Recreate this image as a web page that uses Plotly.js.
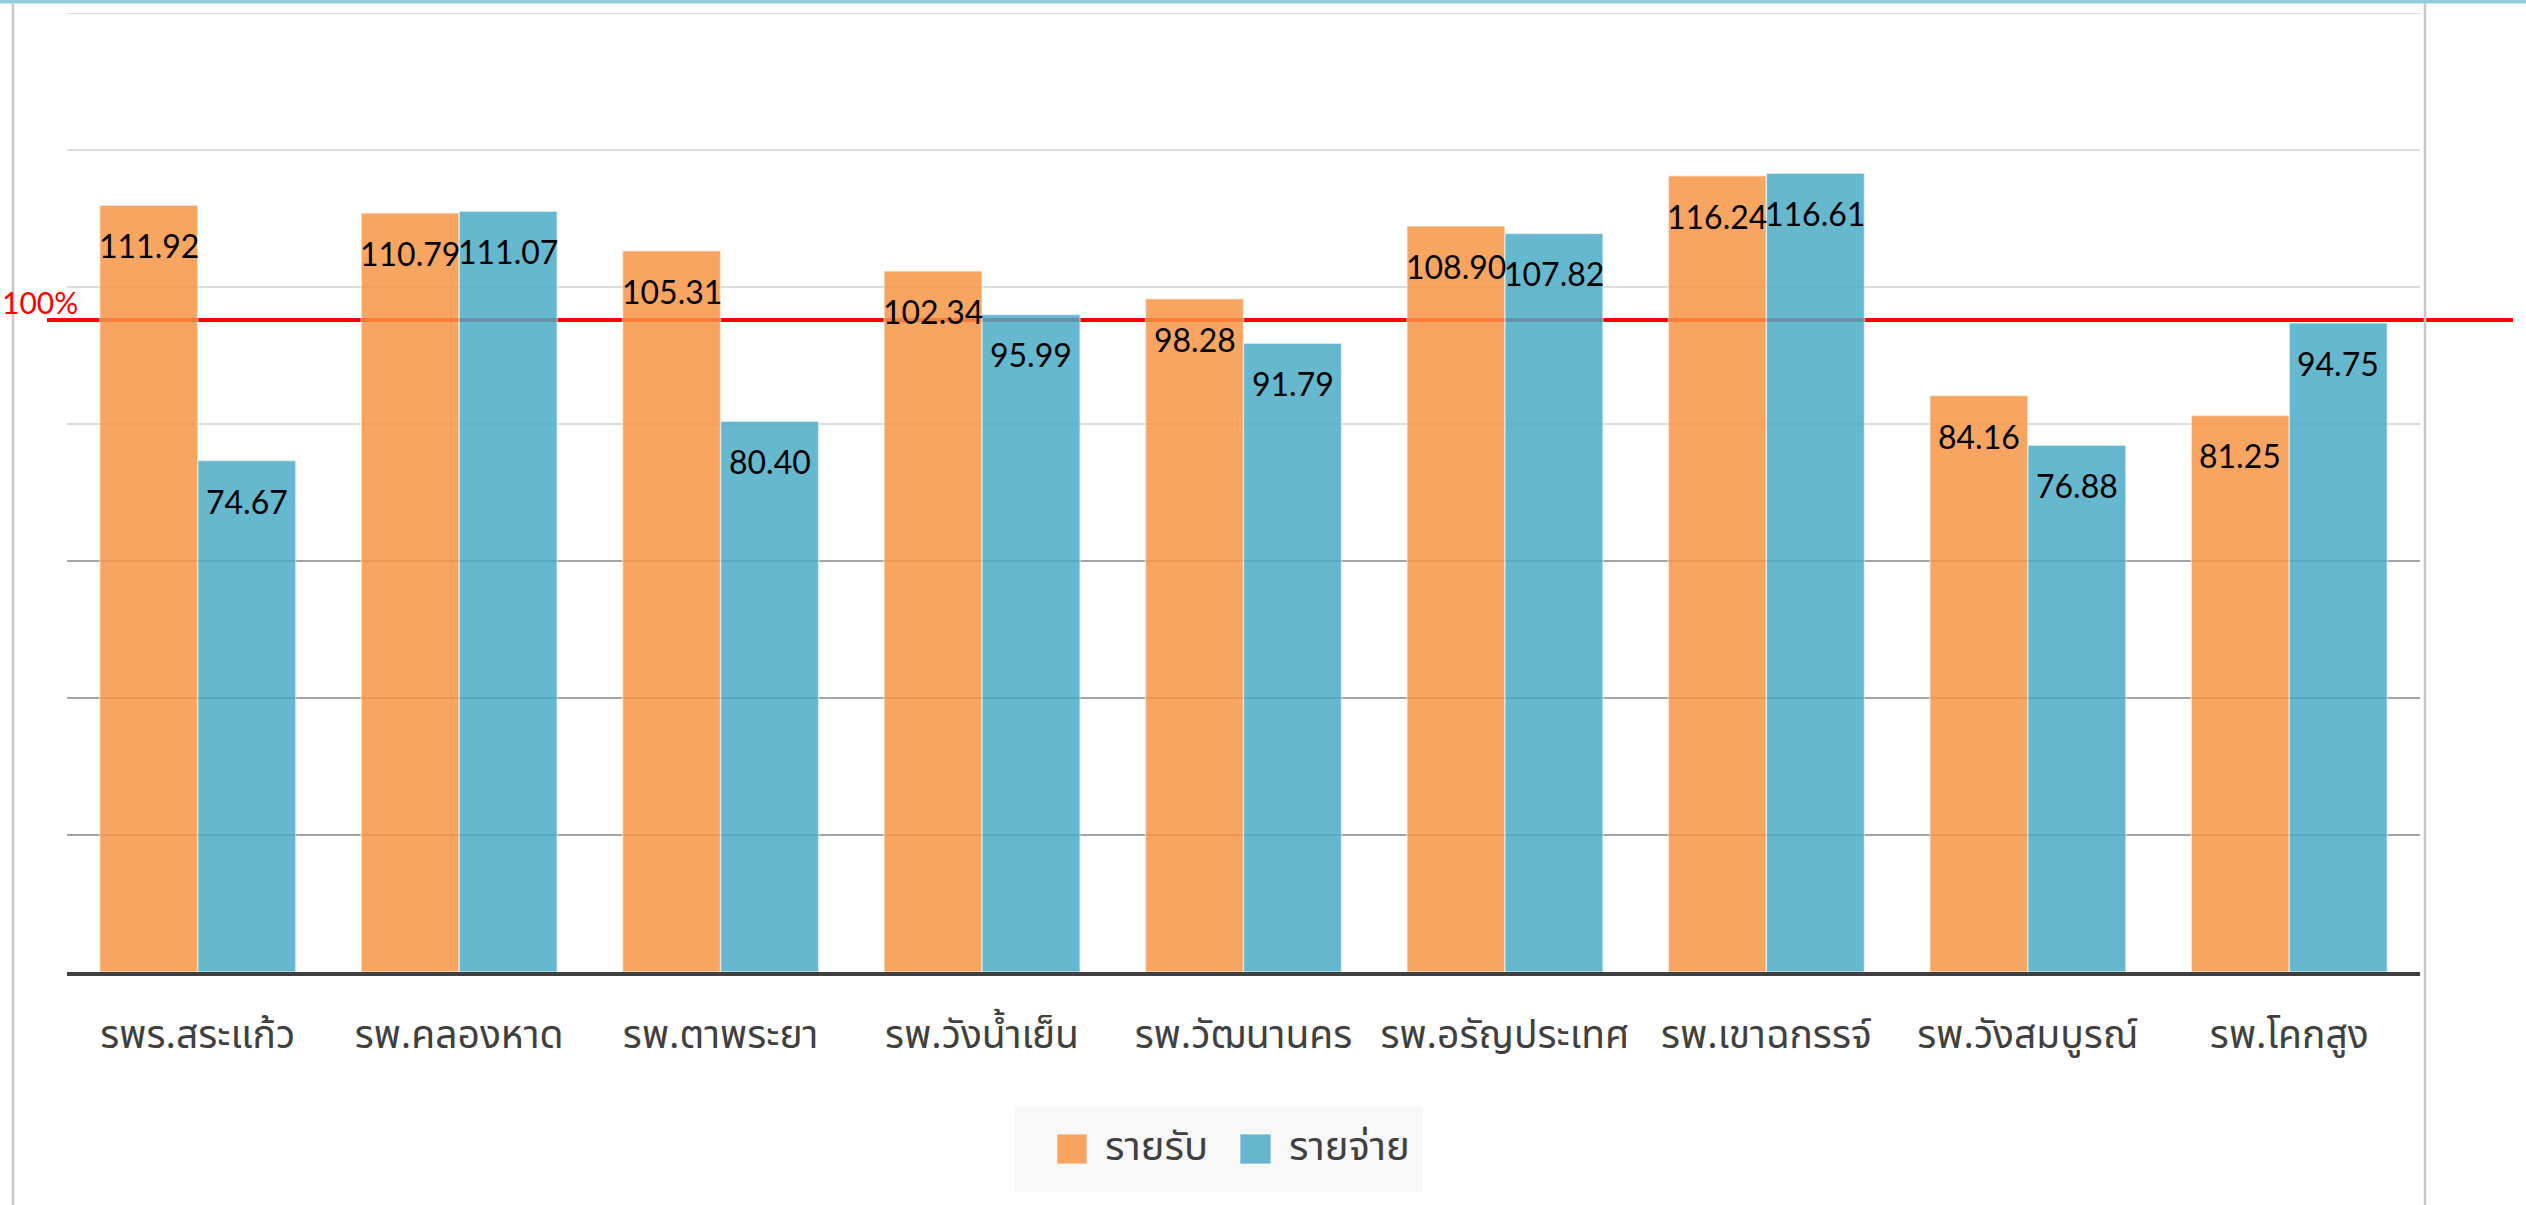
<!DOCTYPE html>
<html>
<head>
<meta charset="utf-8">
<script src="https://cdn.plot.ly/plotly-3.0.1.min.js"></script>
<style>
html,body{margin:0;padding:0;background:#fff;}
#chart{width:2526px;height:1205px;}
</style>
</head>
<body>
<div id="chart"></div>
<script>
// ---- data ----
const hospitals = ["รพร.สระแก้ว","รพ.คลองหาด","รพ.ตาพระยา","รพ.วังน้ำเย็น","รพ.วัฒนานคร","รพ.อรัญประเทศ","รพ.เขาฉกรรจ์","รพ.วังสมบูรณ์","รพ.โคกสูง"];
const income  = [111.92,110.79,105.31,102.34,98.28,108.90,116.24,84.16,81.25];
const expense = [74.67,111.07,80.40,95.99,91.79,107.82,116.61,76.88,94.75];
const seriesNames = ["รายรับ","รายจ่าย"];
const targetLabel = "100%";
const targetLineValue = 95.2;   // where the red "100%" line is drawn in the reference
const yMax = 140;
const yStep = 20;
const darkGridBelow = 60;       // gridlines at or below this value are drawn darker

const orange = "#F79646";
const teal = "#4BACC6";
const thaiFont = "'Noto Sans Thai', 'Noto Sans Thai UI', Lato, 'Noto Sans', sans-serif";

const barCommon = {
  type: "bar",
  x: hospitals,
  opacity: 0.85,
  hoverinfo: "x+y",
  showlegend: false
};
const traces = [
  Object.assign({}, barCommon, {name: seriesNames[0], y: income,
    marker: {color: orange, line: {color: "rgba(255,255,255,0.55)", width: 1.5}}}),
  Object.assign({}, barCommon, {name: seriesNames[1], y: expense,
    marker: {color: teal, line: {color: "rgba(255,255,255,0.55)", width: 1.5}}})
];

// value labels inside top of bars
const annotations = [];
const seriesVals = [income, expense];
seriesVals.forEach((vals, s) => {
  vals.forEach((v, i) => {
    annotations.push({
      x: hospitals[i], y: v, xref: "x", yref: "y",
      xshift: s === 0 ? -49 : 49, yshift: -19,
      yanchor: "top", xanchor: "center",
      text: v.toFixed(2), showarrow: false,
      font: {family: "Lato, 'Noto Sans', sans-serif", size: 32, color: "#000"}
    });
  });
});
// 100% label
annotations.push({
  x: -0.0285, xref: "paper", y: targetLineValue, yref: "y",
  xanchor: "left", yanchor: "bottom", yshift: -2,
  text: targetLabel, showarrow: false,
  font: {family: "Lato, 'Noto Sans', sans-serif", size: 30, color: "#ff0000"}
});
// manual legend texts
const legendTextX = [0.4403, 0.5185];
seriesNames.forEach((n, k) => {
  annotations.push({
    x: legendTextX[k], xref: "paper", y: -0.1836, yref: "paper",
    xanchor: "left", yanchor: "middle", text: n, showarrow: false,
    font: {family: thaiFont, size: 40, color: "#404040"}
  });
});

const shapes = [];
// gridlines (drawn as shapes so the lower ones can be darker, as in the reference)
for (let g = yStep; g <= yMax; g += yStep) {
  shapes.push({
    type: "line", xref: "paper", x0: 0, x1: 1, yref: "y", y0: g, y1: g,
    line: {color: g <= darkGridBelow ? "#a4a4a4" : "#dcdcdc", width: 2}, layer: "below"
  });
}
// red 100% line (behind the semi-transparent bars)
shapes.push({
  type: "line", xref: "paper", x0: -0.0085, x1: 1.0395, yref: "y",
  y0: targetLineValue, y1: targetLineValue,
  line: {color: "#ff0000", width: 4}, layer: "below"
});
// page frame lines
shapes.push({type: "line", xref: "paper", yref: "paper", x0: -0.03, x1: 1.05, y0: 1.0120, y1: 1.0120,
  line: {color: "#92CDDC", width: 4}, layer: "above"});
shapes.push({type: "line", xref: "paper", yref: "paper", x0: -0.02295, x1: -0.02295, y0: 1.0104, y1: -0.25,
  line: {color: "#c8c8c8", width: 2.5}, layer: "above"});
shapes.push({type: "line", xref: "paper", yref: "paper", x0: 1.00212, x1: 1.00212, y0: 1.0104, y1: -0.25,
  line: {color: "#c8c8c8", width: 2.5}, layer: "above"});
// manual legend box and swatches
shapes.push({type: "rect", xref: "paper", yref: "paper", x0: 0.4029, x1: 0.5763, y0: -0.1408, y1: -0.2294,
  fillcolor: "#f8f8f8", line: {width: 0}, layer: "below"});
const swatchX = [[0.4207, 0.4335], [0.4985, 0.5117]];
[orange, teal].forEach((c, k) => shapes.push({
  type: "rect", xref: "paper", yref: "paper", x0: swatchX[k][0], x1: swatchX[k][1], y0: -0.1689, y1: -0.2002,
  fillcolor: c, opacity: 0.85, line: {color: "rgba(255,255,255,0.5)", width: 1.5}, layer: "above"
}));

const layout = {
  width: 2526, height: 1205,
  margin: {l: 67, r: 106, t: 13, b: 233, pad: 0},
  paper_bgcolor: "#ffffff", plot_bgcolor: "rgba(0,0,0,0)",
  barmode: "group", bargap: 0.25, bargroupgap: 0,
  showlegend: false,
  xaxis: {
    type: "category", showgrid: false, zeroline: false,
    showline: true, linecolor: "#404040", linewidth: 4,
    ticks: "", ticklabelstandoff: 25,
    tickfont: {family: thaiFont, size: 39, color: "#404040"}
  },
  yaxis: {
    range: [0, yMax], dtick: yStep, tick0: 0,
    showgrid: false, zeroline: false, showticklabels: false, ticks: "", showline: false
  },
  annotations: annotations,
  shapes: shapes
};

Plotly.newPlot("chart", traces, layout, {displayModeBar: false, staticPlot: true});
</script>
</body>
</html>
